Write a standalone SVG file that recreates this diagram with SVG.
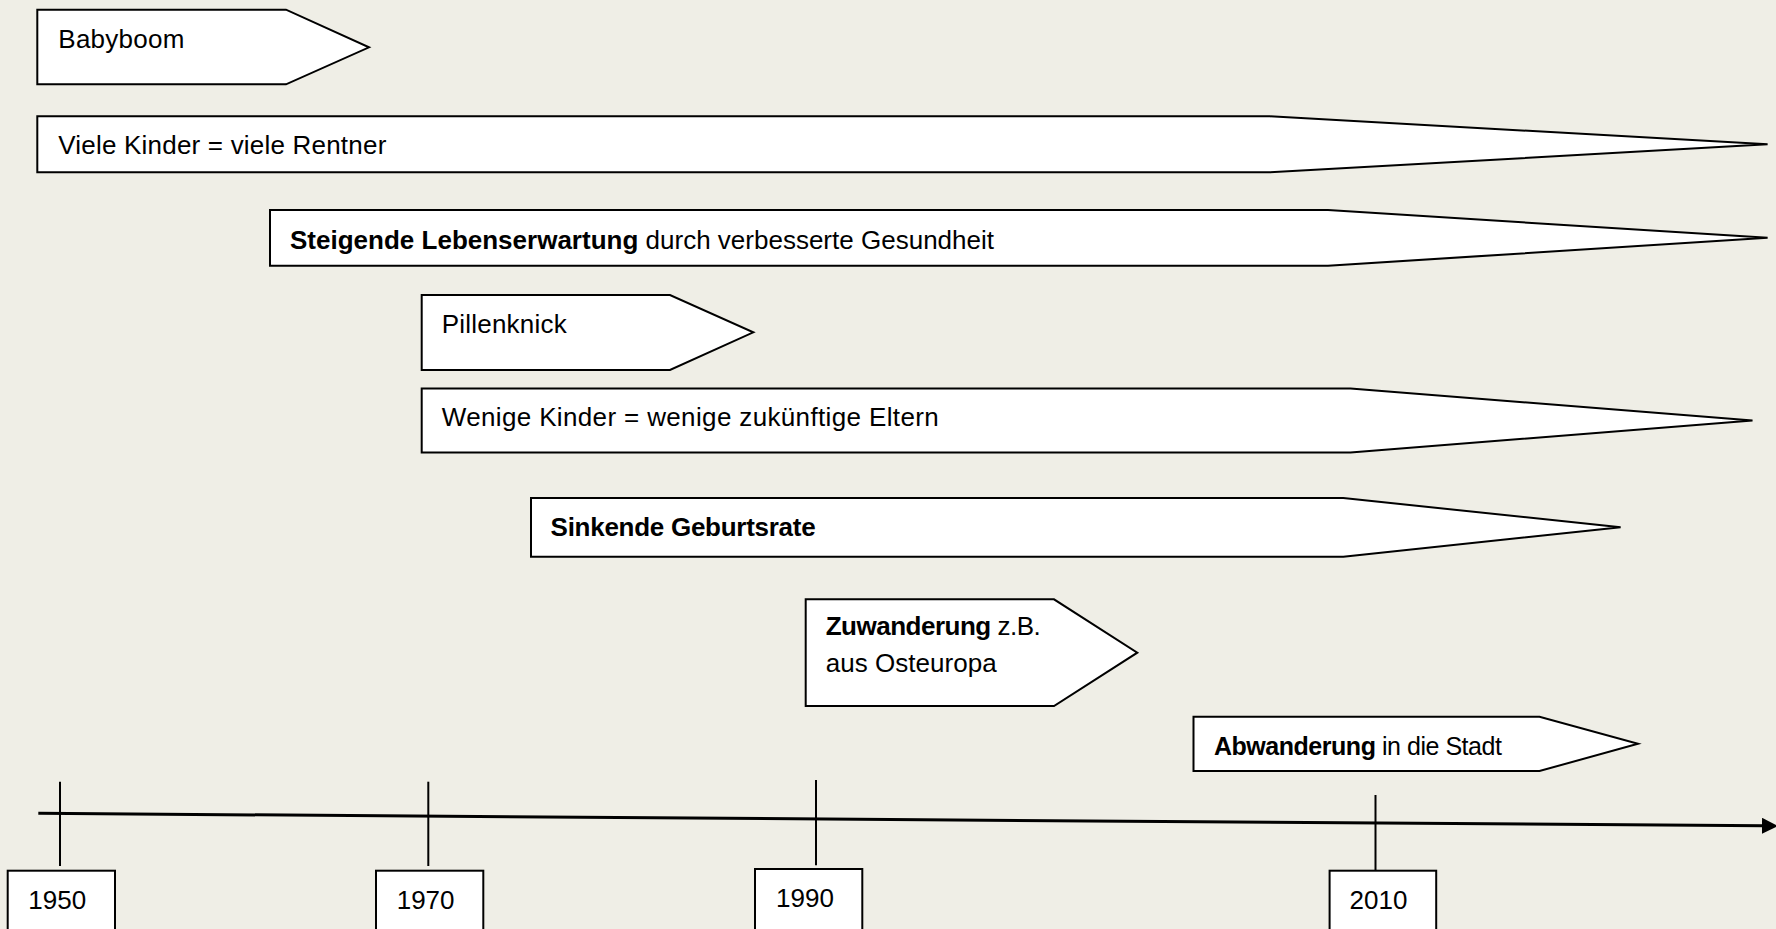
<svg xmlns="http://www.w3.org/2000/svg" width="1776" height="929" viewBox="0 0 1776 929">
<style>
.bg{fill:#efeee6}
.arr{fill:#ffffff;stroke:#000000;stroke-width:2;stroke-linejoin:miter}
.yr{fill:#ffffff;stroke:#000000;stroke-width:2}
.t{font-family:"Liberation Sans",Arial,sans-serif;font-size:26px;fill:#000000}
.b{font-weight:bold}
.tick{stroke:#000000;stroke-width:2;fill:none}
.axis{stroke:#000000;stroke-width:3;fill:none}
</style>
<defs>
<marker id="ah" markerUnits="userSpaceOnUse" markerWidth="18" markerHeight="18" refX="2" refY="8" orient="auto">
<path d="M0,0 L16,8 L0,16 Z" fill="#000000"/>
</marker>
</defs>
<rect class="bg" x="0" y="0" width="1776" height="929"/>

<g id="babyboom">
<polygon class="arr" points="37.3,9.7 286,9.7 369,47.3 286,84.3 37.3,84.3"/>
<text class="t" x="58.3" y="48.3" textLength="126" lengthAdjust="spacing">Babyboom</text>
</g>
<g id="viele-kinder">
<polygon class="arr" points="37.3,116.3 1269.8,116.3 1767.6,144.3 1269.8,172.3 37.3,172.3"/>
<text class="t" x="58.3" y="154" textLength="328" lengthAdjust="spacing">Viele Kinder = viele Rentner</text>
</g>
<g id="lebenserwartung">
<polygon class="arr" points="270,210 1328,210 1767.6,237.8 1328,265.7 270,265.7"/>
<text class="t" x="290" y="249" textLength="704" lengthAdjust="spacing"><tspan class="b">Steigende Lebenserwartung</tspan> durch verbesserte Gesundheit</text>
</g>
<g id="pillenknick">
<polygon class="arr" points="421.7,295 670,295 753.3,332.3 670,370 421.7,370"/>
<text class="t" x="441.7" y="333" textLength="125" lengthAdjust="spacing">Pillenknick</text>
</g>
<g id="wenige-kinder">
<polygon class="arr" points="421.7,388.5 1350.5,388.5 1752.5,420.5 1350.5,452.5 421.7,452.5"/>
<text class="t" x="441.7" y="425.5" textLength="497" lengthAdjust="spacing">Wenige Kinder = wenige zukünftige Eltern</text>
</g>
<g id="geburtsrate">
<polygon class="arr" points="531,498 1343.3,498 1620.6,527.3 1343.3,556.7 531,556.7"/>
<text class="t b" x="550.6" y="536" textLength="265" lengthAdjust="spacing">Sinkende Geburtsrate</text>
</g>
<g id="zuwanderung">
<polygon class="arr" points="805.7,599.3 1054,599.3 1137.3,652.7 1054,706 805.7,706"/>
<text class="t" x="825.7" y="635" textLength="215" lengthAdjust="spacing"><tspan class="b">Zuwanderung</tspan> z.B.</text>
<text class="t" x="825.7" y="671.7" textLength="171" lengthAdjust="spacing">aus Osteuropa</text>
</g>
<g id="abwanderung">
<polygon class="arr" points="1193.5,716.7 1539.5,716.7 1638,743.8 1539.5,771 1193.5,771"/>
<text class="t" x="1213.9" y="754.5" style="font-size:25px" textLength="288" lengthAdjust="spacing"><tspan class="b">Abwanderung</tspan> in die Stadt</text>
</g>

<g id="connectors">
<line class="axis" x1="38.3" y1="813.3" x2="1764" y2="825.8" marker-end="url(#ah)"/>
<line class="tick" x1="60" y1="781.7" x2="60" y2="866"/>
<line class="tick" x1="428.3" y1="781.7" x2="428.3" y2="866"/>
<line class="tick" x1="816" y1="780" x2="816" y2="865.3"/>
<line class="tick" x1="1375.5" y1="795" x2="1375.5" y2="870"/>
</g>

<g id="y1950">
<rect class="yr" x="7.7" y="870.7" width="107.3" height="70"/>
<text class="t" x="28.3" y="909">1950</text>
</g>
<g id="y1970">
<rect class="yr" x="376" y="870.7" width="107.3" height="70"/>
<text class="t" x="396.7" y="909">1970</text>
</g>
<g id="y1990">
<rect class="yr" x="755" y="869" width="107.3" height="72"/>
<text class="t" x="776" y="907.3">1990</text>
</g>
<g id="y2010">
<rect class="yr" x="1329.6" y="870.7" width="106.6" height="70"/>
<text class="t" x="1349.6" y="908.5">2010</text>
</g>
</svg>
